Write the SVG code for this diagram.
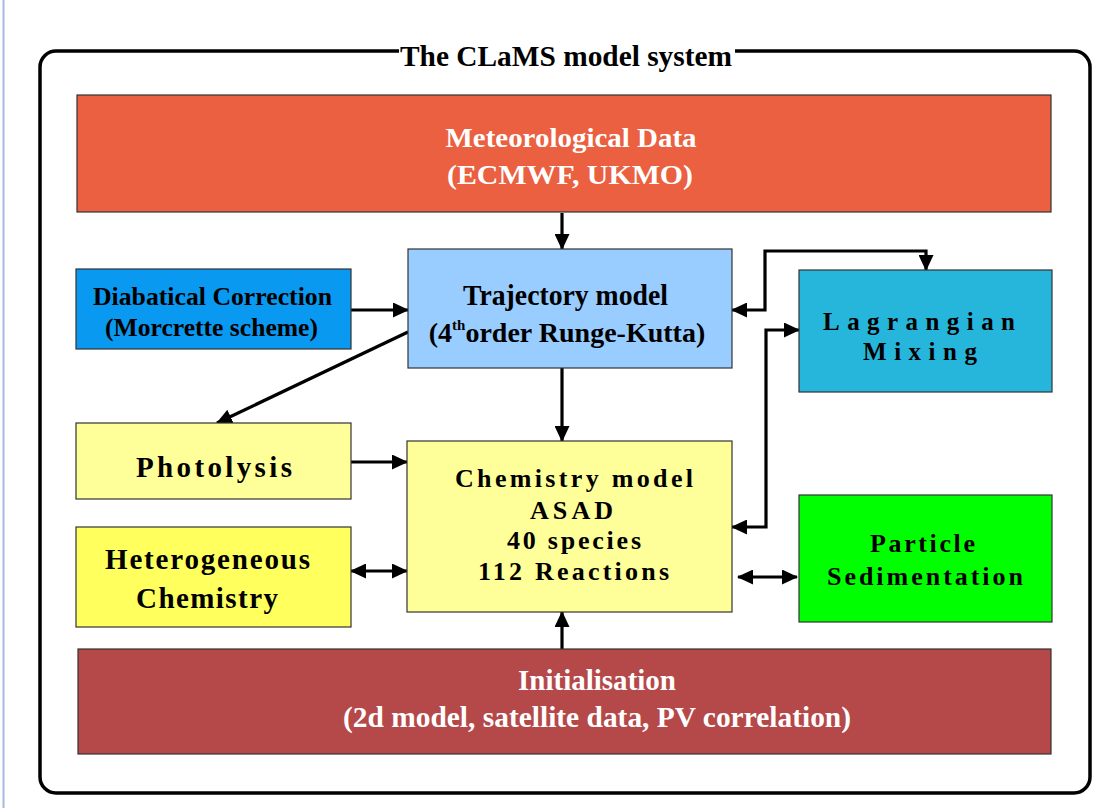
<svg xmlns="http://www.w3.org/2000/svg" width="1093" height="808" viewBox="0 0 1093 808">
<defs>
<style>
.box{stroke:#333;stroke-width:1.2}
.t{font-family:"Liberation Serif","Times New Roman",serif;font-weight:bold;text-anchor:middle;fill:#000}
.w{fill:#fff}
.c{fill:none;stroke:#000;stroke-width:3.2}
</style>
<marker id="ah" markerUnits="userSpaceOnUse" markerWidth="16" markerHeight="15" viewBox="0 0 16 15" refX="15" refY="7.5" orient="auto-start-reverse">
<path d="M0,0 L16,7.5 L0,15 z" fill="#000"/>
</marker>
</defs>
<rect width="1093" height="808" fill="#fff"/>
<rect x="2.5" y="0" width="2" height="808" fill="#a9b8dc"/>
<g id="frame">
<rect x="40" y="51" width="1050" height="742" rx="16" ry="16" fill="none" stroke="#000" stroke-width="3.5"/>
<rect x="399" y="40" width="336" height="20" fill="#fff"/>
<text class="t" x="566" y="66" font-size="30" textLength="332" lengthAdjust="spacingAndGlyphs">The CLaMS model system</text>
</g>
<g id="connectors">
<path class="c" d="M562,213 L562,249" marker-end="url(#ah)"/>
<path class="c" d="M351,310 L408,310" marker-end="url(#ah)"/>
<path class="c" d="M408,332 L217,423" marker-end="url(#ah)"/>
<path class="c" d="M562,368 L562,441" marker-end="url(#ah)"/>
<path class="c" d="M351,462 L407,462" marker-end="url(#ah)"/>
<path class="c" d="M351,571 L407,571" marker-start="url(#ah)" marker-end="url(#ah)"/>
<path class="c" d="M562,649 L562,612" marker-end="url(#ah)"/>
<path class="c" d="M732,310 L765,310 L765,251 L926,251 L926,270" marker-start="url(#ah)" marker-end="url(#ah)"/>
<path class="c" d="M732,527 L766,527 L766,330 L799,330" marker-start="url(#ah)" marker-end="url(#ah)"/>
<path class="c" d="M738,577 L797,577" marker-start="url(#ah)" marker-end="url(#ah)"/>
</g>
<g id="met">
<rect class="box" x="77" y="95" width="974" height="117" fill="#ea6040"/>
<text class="t w" x="571" y="147" font-size="28" textLength="251" lengthAdjust="spacingAndGlyphs">Meteorological Data</text>
<text class="t w" x="570" y="184" font-size="28" textLength="246" lengthAdjust="spacingAndGlyphs">(ECMWF, UKMO)</text>
</g>
<g id="diabatical">
<rect class="box" x="76" y="269" width="275" height="80" fill="#0a99f0"/>
<text class="t" x="212.5" y="305" font-size="25" textLength="239" lengthAdjust="spacingAndGlyphs">Diabatical Correction</text>
<text class="t" x="211.5" y="336" font-size="25" textLength="213" lengthAdjust="spacingAndGlyphs">(Morcrette scheme)</text>
</g>
<g id="trajectory">
<rect class="box" x="408" y="249" width="324" height="119" fill="#99ccff"/>
<text class="t" x="565.5" y="305" font-size="29" textLength="205" lengthAdjust="spacingAndGlyphs">Trajectory model</text>
<text class="t" x="567" y="342" font-size="28">(4<tspan font-size="15" dy="-12">th</tspan><tspan dy="12">order Runge-Kutta)</tspan></text>
</g>
<g id="lagrangian">
<rect class="box" x="799" y="270" width="253" height="122" fill="#26b6dc"/>
<text class="t" x="919" y="330" font-size="25" textLength="192" lengthAdjust="spacing">Lagrangian</text>
<text class="t" x="920" y="360" font-size="25" textLength="114" lengthAdjust="spacing">Mixing</text>
</g>
<g id="photolysis">
<rect class="box" x="76" y="423" width="275" height="76" fill="#ffff99"/>
<text class="t" x="214" y="477" font-size="29" textLength="156" lengthAdjust="spacing">Photolysis</text>
</g>
<g id="heterogeneous">
<rect class="box" x="76" y="527" width="275" height="100" fill="#ffff5e"/>
<text class="t" x="207.5" y="569" font-size="29" textLength="205" lengthAdjust="spacing">Heterogeneous</text>
<text class="t" x="207" y="608" font-size="29" textLength="142" lengthAdjust="spacing">Chemistry</text>
</g>
<g id="chemistry">
<rect class="box" x="407" y="441" width="325" height="171" fill="#ffff99"/>
<text class="t" x="574" y="487" font-size="26" textLength="238" lengthAdjust="spacing">Chemistry model</text>
<text class="t" x="571.5" y="519" font-size="26" textLength="83" lengthAdjust="spacing">ASAD</text>
<text class="t" x="574" y="549" font-size="26" textLength="134" lengthAdjust="spacing">40 species</text>
<text class="t" x="573.5" y="580" font-size="26" textLength="191" lengthAdjust="spacing">112 Reactions</text>
</g>
<g id="particle">
<rect class="box" x="799" y="495" width="253" height="127" fill="#00ff00"/>
<text class="t" x="922.5" y="552" font-size="26" textLength="105" lengthAdjust="spacing">Particle</text>
<text class="t" x="925" y="585" font-size="26" textLength="196" lengthAdjust="spacing">Sedimentation</text>
</g>
<g id="initialisation">
<rect class="box" x="78" y="649" width="973" height="105" fill="#b54848"/>
<text class="t w" x="597" y="690" font-size="29" textLength="158" lengthAdjust="spacingAndGlyphs">Initialisation</text>
<text class="t w" x="597" y="727" font-size="29" textLength="508" lengthAdjust="spacingAndGlyphs">(2d model, satellite data, PV correlation)</text>
</g>
</svg>
